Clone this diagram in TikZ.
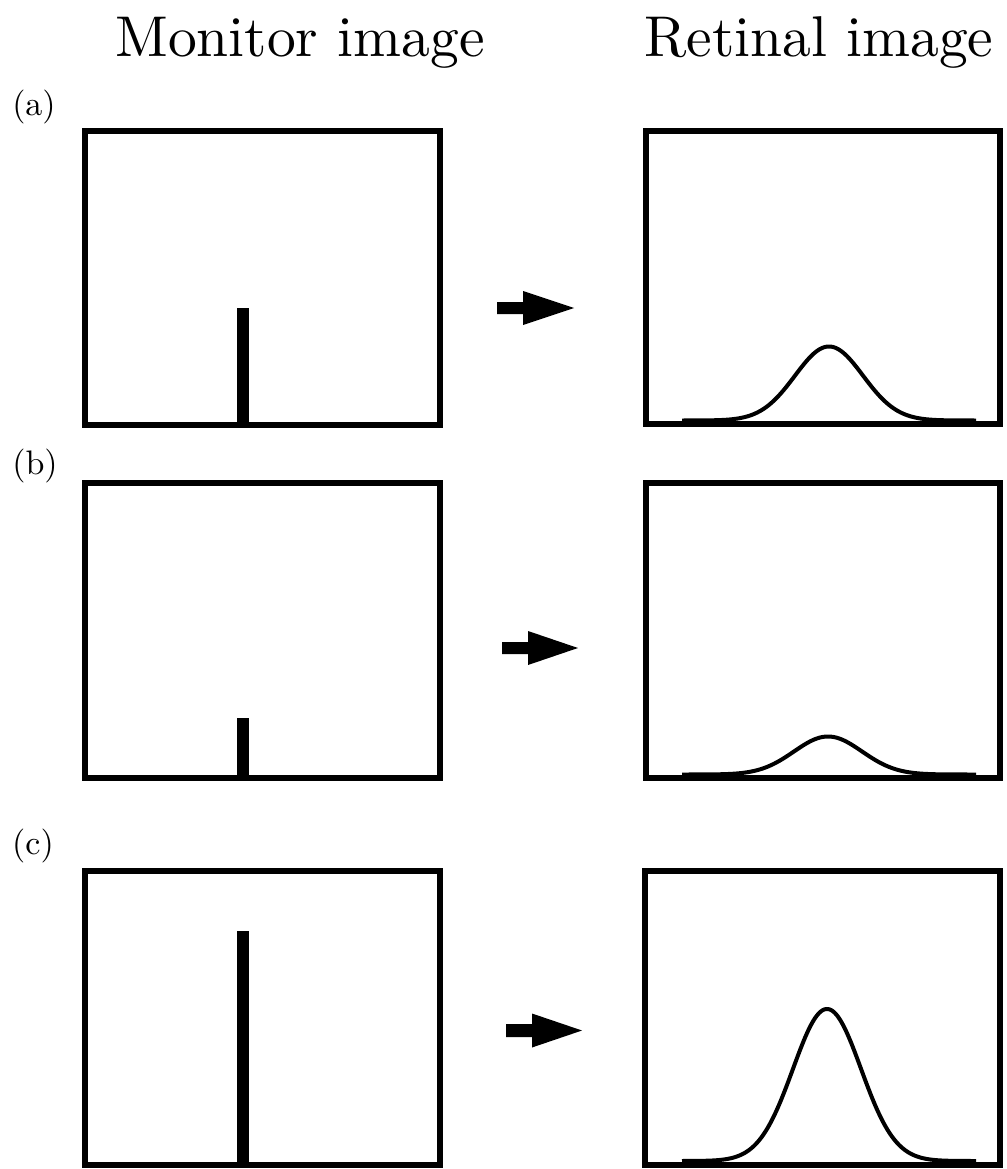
\documentclass[tikz,border=0pt]{standalone}
\begin{document}
\begin{tikzpicture}[x=1pt,y=-1pt,
  frame/.style={line width=6pt},
  bar/.style={fill=black},
  curve/.style={line width=4pt,line join=round},
  fatarrow/.style={fill=black},
  title/.style={inner sep=0pt,anchor=base,scale=5.75,font=\fontsize{10}{12}\selectfont},
  tag/.style={inner sep=0pt,anchor=base,scale=3.4,font=\fontsize{10}{12}\selectfont}]
\useasboundingbox (0,0) rectangle (1006,1169);
% titles
\node[title] (tmon) at (300,57) {Monitor image};
\node[title] (tret) at (819,57) {Retinal image};
% row tags
\node[tag] (ta) at (34,116) {(a)};
\node[tag] (tb) at (35,474) {(b)};
\node[tag] (tc) at (33,854) {(c)};
% monitor frames
\draw[frame] (85,131) rectangle (439.5,425);
\draw[frame] (85,483) rectangle (439.5,778);
\draw[frame] (85,870.5) rectangle (439.5,1165);
% bars
\fill[bar] (237,308) rectangle (249,425);
\fill[bar] (237,718) rectangle (249,778);
\fill[bar] (237,931) rectangle (249,1163);
% arrows
\fill[fatarrow,shift={(497,308)}] (0,-6)--(26,-6)--(26,-17)--(77,0)--(26,17)--(26,6)--(0,6)--cycle;
\fill[fatarrow,shift={(502,648)}] (0,-6)--(26,-6)--(26,-17)--(76,0)--(26,17)--(26,6)--(0,6)--cycle;
\fill[fatarrow,shift={(506,1030.5)}] (0,-6.5)--(26,-6.5)--(26,-17)--(76,0)--(26,17)--(26,6.5)--(0,6.5)--cycle;
% retinal frames
\draw[frame] (646,131) rectangle (1000,424);
\draw[frame] (646,483) rectangle (1000,778);
\draw[frame] (645,870.5) rectangle (1000,1165);
% gaussians
\draw[curve] plot[domain=682:976,samples=200,smooth] (\x,{420.5-74*exp(-0.5*((\x-829)/34)^2)});
\draw[curve] plot[domain=682:976,samples=200,smooth] (\x,{774.5-38*exp(-0.5*((\x-828)/34)^2)});
\draw[curve] plot[domain=682:976,samples=200,smooth] (\x,{1161-152*exp(-0.5*((\x-827)/34)^2)});
\end{tikzpicture}
\end{document}
